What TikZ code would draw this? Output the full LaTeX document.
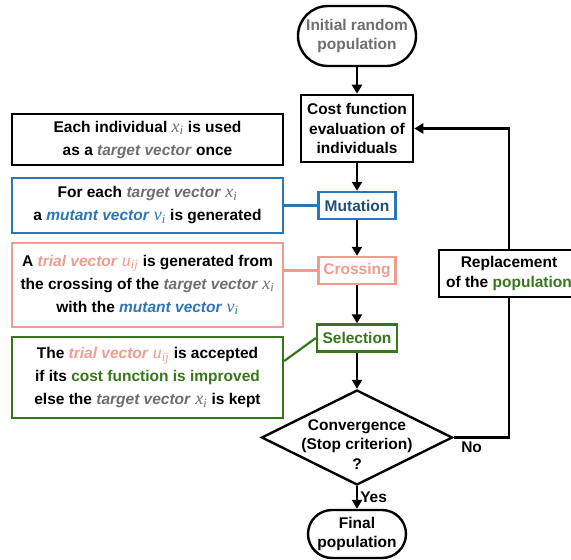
\documentclass[tikz,border=0pt]{standalone}
\usepackage{fontspec}
\setmainfont{Liberation Sans}
\newfontfamily\vfont{Liberation Serif}
\usepackage{xcolor}
\usetikzlibrary{shapes.geometric,arrows.meta}

\definecolor{tgray}{RGB}{110,110,110}
\definecolor{mblue}{RGB}{46,117,182}
\definecolor{mdark}{RGB}{31,78,121}
\definecolor{csalmon}{RGB}{242,155,145}
\definecolor{sgreen}{RGB}{56,118,29}

\newcommand{\tgt}{\textcolor{tgray}{\textit{target vector}}}
\newcommand{\mut}{\textcolor{mblue}{\textit{mutant vector}}}
\newcommand{\tri}{\textcolor{csalmon}{\textit{trial vector}}}
\newcommand{\vsym}[2]{{\vfont\mdseries\itshape\fontsize{18}{20}\selectfont #1\textsubscript{#2}}}
\newcommand{\xvec}{\textcolor{tgray}{\vsym{x}{i}}}
\newcommand{\vvec}{\textcolor{mblue}{\vsym{v}{i}}}
\newcommand{\uvec}{\textcolor{csalmon}{\vsym{u}{ij}}}
\newcommand{\mainfont}{\bfseries\fontsize{15.5}{19.5}\selectfont}
\newcommand{\sidefont}{\bfseries\fontsize{15.5}{23}\selectfont}

\tikzset{
  terminal/.style={draw, black, line width=2.4pt, rounded corners=30pt, align=center, inner sep=2pt, font=\mainfont},
  process/.style={draw, black, line width=2.6pt, align=center, inner sep=3pt, font=\mainfont},
  stepbox/.style={draw, line width=2.4pt, minimum width=77pt, minimum height=27pt, inner sep=2pt, font=\mainfont},
  decision/.style={draw, black, diamond, line width=2.4pt, minimum width=191pt, minimum height=95pt, inner sep=0pt},
  infobox/.style={draw, line width=2.5pt, minimum width=271pt, align=center, inner sep=3pt, font=\sidefont},
  flow/.style={black, line width=2.5pt, ->},
  link/.style={line width=2.2pt}
}

\begin{document}
\begin{tikzpicture}[x=1pt, y=1pt, node distance=30pt, >={Triangle[length=9pt,width=10pt]}]
\useasboundingbox (0,0) rectangle (571,-560);

% main flow
\node[terminal, text=tgray, minimum width=118pt, minimum height=60pt] (init) at (357,-36) {Initial random\\population};
\node[process, minimum width=112pt, minimum height=67pt, below of=init, yshift=-62.5pt] (cost) {Cost function\\evaluation of\\individuals};
\node[stepbox, draw=mblue, text=mdark, below of=cost, yshift=-47pt] (mutation) {Mutation};
\node[stepbox, draw=csalmon, text=csalmon, below of=mutation, yshift=-35pt] (crossing) {Crossing};
\node[stepbox, draw=sgreen, text=sgreen, minimum width=80pt, below of=crossing, yshift=-37.5pt] (selection) {Selection};
\node[decision, below of=selection, yshift=-69.5pt, label={[font=\mainfont, align=center, yshift=-7pt]center:{Convergence\\(Stop criterion)\\?}}] (conv) {};
\node[terminal, rounded corners=24pt, minimum width=98pt, minimum height=48pt, below of=conv, yshift=-66.5pt] (final) {Final\\population};
\node[process, minimum width=140pt, minimum height=47pt, right of=crossing, xshift=122pt, yshift=-3pt] (repl) {Replacement\\of the \textcolor{sgreen}{population}};

% side notes
\node[infobox, draw=black, minimum height=51pt, left of=mutation, xshift=-179.5pt, yshift=66pt] (each) {Each individual \xvec{} is used\\as a \tgt{} once};
\node[infobox, draw=mblue, minimum height=55pt, left of=mutation, xshift=-179.5pt] (mutnote) {For each \tgt{} \xvec\\a \mut{} \vvec{} is generated};
\node[infobox, draw=csalmon, minimum height=84pt, left of=crossing, xshift=-179.5pt, yshift=-14.5pt] (crossnote) {A \tri{} \uvec{} is generated from\\the crossing of the \tgt{} \xvec\\with the \mut{} \vvec};
\node[infobox, draw=sgreen, minimum height=81pt, left of=selection, xshift=-179.5pt, yshift=-39.5pt] (selnote) {The \tri{} \uvec{} is accepted\\if its \textcolor{sgreen}{cost function is improved}\\else the \tgt{} \xvec{} is kept};

\draw[flow] (init) -- (cost);
\draw[flow] (cost) -- (mutation);
\draw[flow] (mutation) -- (crossing);
\draw[flow] (crossing) -- (selection);
\draw[flow] (selection) -- (conv);
\draw[flow] (conv) -- node[right, font=\mainfont, inner sep=2pt] {Yes} (final);
\draw[flow, -] (conv.east) node[below right, font=\mainfont, xshift=3pt] {No} -| (repl.south);
\draw[flow] (repl.north) |- (cost.east);

\draw[link, mblue] (mutation.west -| mutnote.east) -- (mutation.west);
\draw[link, csalmon] (crossing.west -| crossnote.east) -- (crossing.west);
\draw[link, sgreen] ([yshift=16.5pt]selnote.east) -- (selection.west);
\end{tikzpicture}
\end{document}
